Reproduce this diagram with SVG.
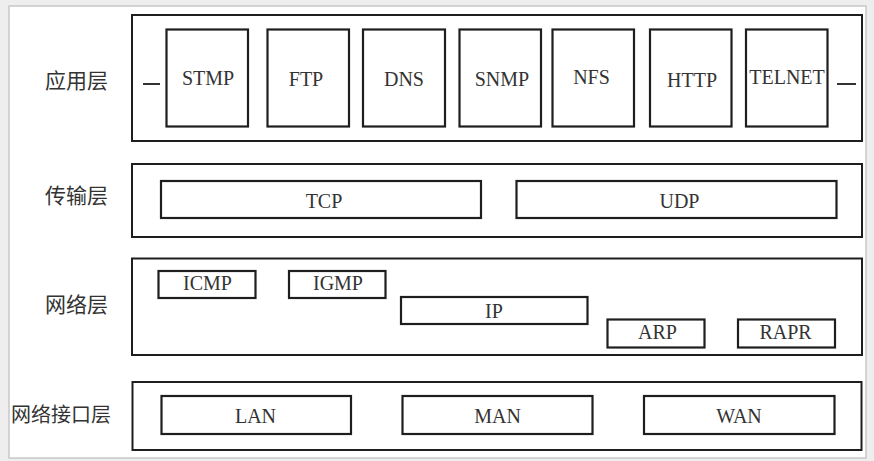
<svg xmlns="http://www.w3.org/2000/svg" width="874" height="461" viewBox="0 0 874 461">
<style>
.layer{fill:#fff;stroke:#1e1e1e;stroke-width:2}
.box{fill:#fff;stroke:#1e1e1e;stroke-width:2.2}
.t{font-family:"Liberation Serif","Times New Roman",serif;font-size:20px;fill:#333;text-anchor:middle}
.cn{font-family:"Noto Sans CJK SC","Noto Sans CJK JP",sans-serif;font-size:21px;fill:#333}
.cn5{font-family:"Noto Sans CJK SC","Noto Sans CJK JP",sans-serif;font-size:20px;fill:#333}
.dash{stroke:#333;stroke-width:2}
</style>
<rect x="0" y="0" width="874" height="461" fill="#eeeeee"/>
<rect x="9" y="6" width="857" height="452" fill="#fff" stroke="#c8c8c8" stroke-width="1.5"/>

<g id="app-layer">
<rect class="layer" x="132" y="15" width="730" height="126"/>
<text class="cn" x="45" y="88">应用层</text>
<line class="dash" x1="143" y1="84" x2="160" y2="84"/>
<line class="dash" x1="837" y1="84" x2="856" y2="84"/>
</g>
<g id="stmp"><rect class="box" x="166.5" y="29.5" width="81.5" height="97"/><text class="t" x="208" y="85">STMP</text></g>
<g id="ftp"><rect class="box" x="267.5" y="29.5" width="81.5" height="97"/><text class="t" x="306" y="86">FTP</text></g>
<g id="dns"><rect class="box" x="363" y="29.5" width="82" height="97"/><text class="t" x="404" y="86">DNS</text></g>
<g id="snmp"><rect class="box" x="459.5" y="29.5" width="81.5" height="97"/><text class="t" x="502" y="86">SNMP</text></g>
<g id="nfs"><rect class="box" x="552.5" y="29.5" width="81.5" height="97"/><text class="t" x="591.5" y="84">NFS</text></g>
<g id="http"><rect class="box" x="650" y="29.5" width="81.5" height="97"/><text class="t" x="692" y="87">HTTP</text></g>
<g id="telnet"><rect class="box" x="746" y="29.5" width="81.5" height="97"/><text class="t" x="787" y="84">TELNET</text></g>

<g id="transport-layer">
<rect class="layer" x="132" y="164" width="730" height="73"/>
<text class="cn" x="45" y="203">传输层</text>
</g>
<g id="tcp"><rect class="box" x="161" y="181" width="320" height="37"/><text class="t" x="324" y="208">TCP</text></g>
<g id="udp"><rect class="box" x="516.5" y="181" width="320" height="37"/><text class="t" x="679.5" y="208">UDP</text></g>

<g id="network-layer">
<rect class="layer" x="132" y="258.5" width="730" height="96.5"/>
<text class="cn" x="45" y="312">网络层</text>
</g>
<g id="icmp"><rect class="box" x="158.5" y="271" width="97" height="27"/><text class="t" x="207.5" y="290">ICMP</text></g>
<g id="igmp"><rect class="box" x="289" y="271" width="96.5" height="27"/><text class="t" x="338" y="290">IGMP</text></g>
<g id="ip"><rect class="box" x="401" y="297" width="186.5" height="27"/><text class="t" x="494" y="318">IP</text></g>
<g id="arp"><rect class="box" x="607.5" y="319.5" width="97" height="28"/><text class="t" x="657.5" y="339">ARP</text></g>
<g id="rapr"><rect class="box" x="738" y="319.5" width="97" height="28"/><text class="t" x="785.5" y="339">RAPR</text></g>

<g id="interface-layer">
<rect class="layer" x="132.5" y="382" width="729" height="68"/>
<text class="cn5" x="11" y="422">网络接口层</text>
</g>
<g id="lan"><rect class="box" x="161.5" y="396" width="189.5" height="38"/><text class="t" x="255.5" y="423">LAN</text></g>
<g id="man"><rect class="box" x="402.5" y="396" width="190" height="38"/><text class="t" x="497.5" y="423">MAN</text></g>
<g id="wan"><rect class="box" x="644" y="396" width="190.5" height="38"/><text class="t" x="739" y="423">WAN</text></g>

<g id="connectors"></g>
</svg>
